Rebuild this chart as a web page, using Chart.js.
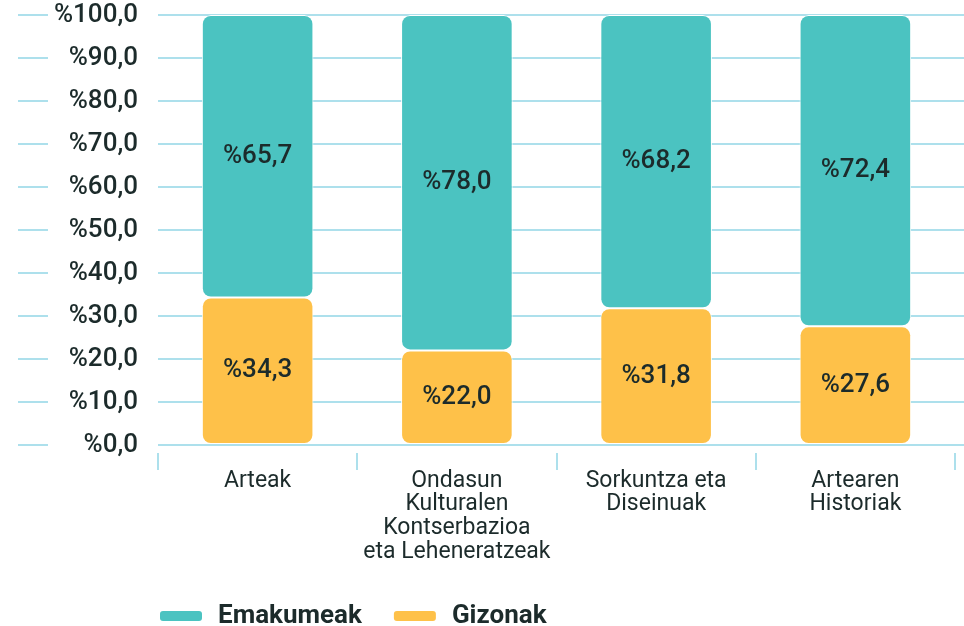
<!DOCTYPE html>
<html>
<head>
<meta charset="utf-8">
<script src="https://cdn.jsdelivr.net/npm/chart.js@4/dist/chart.umd.min.js"></script>
<style>
  html, body { margin: 0; padding: 0; background: #fff; }
  #wrap { width: 964px; height: 626px; position: relative; }
</style>
</head>
<body>
<div id="wrap"><canvas id="barChart"></canvas></div>
<script>
var categories = [
    "Arteak",
    ["Ondasun", "Kulturalen", "Kontserbazioa", "eta Leheneratzeak"],
    ["Sorkuntza eta", "Diseinuak"],
    ["Artearen", "Historiak"]
];
var emakumeak = [65.7, 78.0, 68.2, 72.4];
var gizonak = [34.3, 22.0, 31.8, 27.6];
var yTicks = [0, 10, 20, 30, 40, 50, 60, 70, 80, 90, 100];

var TEAL = "#4bc3c1";
var YELLOW = "#fec149";
var GRID = "rgba(60,180,210,0.42)";
var TEXT = "#1c2b2b";
var FONT = "Roboto, 'Open Sans', sans-serif";
var RADIUS = { topLeft: 9, topRight: 9, bottomLeft: 9, bottomRight: 9 };

function pct(v) {
    return "%" + v.toFixed(1).replace(".", ",");
}

// extra decorations: value labels, left dashes, category separators, legend
var extras = {
    id: "extras",
    afterDraw: function(chart) {
        var ctx = chart.ctx;
        var area = chart.chartArea;
        var y = chart.scales.y;
        var x = chart.scales.x;
        ctx.save();

        // short dashes left of y labels and grid continuation on the right
        ctx.strokeStyle = GRID;
        ctx.lineWidth = 2;
        yTicks.forEach(function(t) {
            var py = Math.round(y.getPixelForValue(t));
            ctx.beginPath();
            ctx.moveTo(18, py);
            ctx.lineTo(48, py);
            ctx.moveTo(area.right, py);
            ctx.lineTo(chart.width, py);
            ctx.stroke();
        });

        // category separators below the axis
        var n = categories.length;
        for (var i = 0; i <= n; i++) {
            var px = Math.round(x.left + (x.right - x.left) * i / n);
            ctx.beginPath();
            ctx.moveTo(px, area.bottom + 8);
            ctx.lineTo(px, area.bottom + 25);
            ctx.stroke();
        }

        // value labels in the middle of each segment
        ctx.fillStyle = TEXT;
        ctx.font = "500 26px " + FONT;
        ctx.textAlign = "center";
        ctx.textBaseline = "middle";
        chart.data.datasets.forEach(function(ds, di) {
            var meta = chart.getDatasetMeta(di);
            meta.data.forEach(function(bar, j) {
                var p = bar.getProps(["x", "y", "base"], true);
                ctx.fillText(pct(ds.data[j]), p.x, (p.y + p.base) / 2);
            });
        });

        // legend (Emakumeak first, Gizonak second)
        var items = chart.data.datasets.slice().reverse();
        var lx = area.left + 2;
        var ly = 616;
        ctx.font = "bold 26px " + FONT;
        ctx.textAlign = "left";
        ctx.textBaseline = "middle";
        items.forEach(function(ds) {
            ctx.fillStyle = ds.backgroundColor;
            ctx.beginPath();
            ctx.roundRect(lx, ly - 5, 42, 10, 3);
            ctx.fill();
            lx += 42 + 16;
            ctx.fillStyle = TEXT;
            ctx.fillText(ds.label, lx, ly);
            lx += ctx.measureText(ds.label).width + 32;
        });

        ctx.restore();
    }
};

var barData = {
    labels: categories,
    datasets: [
        {
            label: "Gizonak",
            data: gizonak,
            backgroundColor: YELLOW,
            borderColor: "#ffffff",
            borderWidth: 1,
            borderSkipped: false,
            borderRadius: RADIUS
        },
        {
            label: "Emakumeak",
            data: emakumeak,
            backgroundColor: TEAL,
            borderColor: "#ffffff",
            borderWidth: 1,
            borderSkipped: false,
            borderRadius: RADIUS
        }
    ]
};

var barOptions = {
    responsive: true,
    maintainAspectRatio: false,
    animation: false,
    layout: {
        padding: { top: 15, right: 9, bottom: 0, left: 0 }
    },
    datasets: {
        bar: { categoryPercentage: 1.0, barPercentage: 0.56 }
    },
    plugins: {
        legend: { display: false },
        tooltip: { enabled: false }
    },
    scales: {
        x: {
            stacked: true,
            grid: { display: false },
            border: { display: false },
            ticks: {
                color: TEXT,
                font: { family: FONT, size: 23, lineHeight: 1.03 },
                padding: 16,
                maxRotation: 0,
                autoSkip: false
            },
            afterFit: function(scale) {
                scale.height = 626 - 445;
                scale.paddingLeft = 0;
                scale.paddingRight = 0;
            }
        },
        y: {
            stacked: true,
            min: 0,
            max: 100,
            z: 1,
            afterBuildTicks: function(scale) {
                scale.ticks = yTicks.map(function(v) { return { value: v }; });
            },
            grid: { color: GRID, lineWidth: 2, drawTicks: false },
            border: { display: false },
            ticks: {
                color: TEXT,
                font: { family: FONT, size: 26, weight: 500 },
                padding: 20,
                callback: function(v) { return pct(v); }
            },
            afterFit: function(scale) {
                scale.width = 158;
                scale.paddingTop = 0;
                scale.paddingBottom = 0;
            }
        }
    }
};

var ctx = document.getElementById("barChart").getContext("2d");
new Chart(ctx, { type: "bar", data: barData, options: barOptions, plugins: [extras] });
</script>
</body>
</html>
